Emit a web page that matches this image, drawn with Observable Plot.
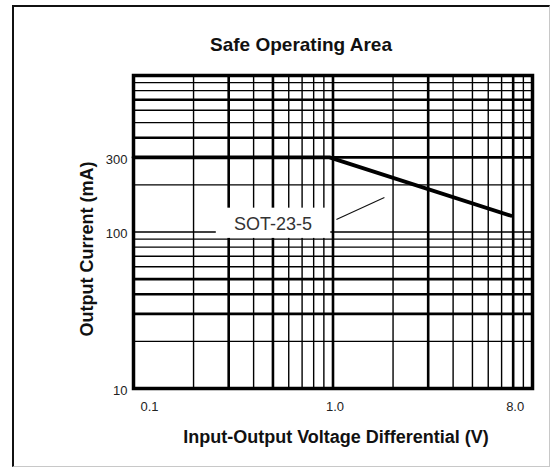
<!DOCTYPE html>
<html>
<head>
<meta charset="utf-8">
<script src="https://cdn.jsdelivr.net/npm/d3@7"></script>
<script src="https://cdn.jsdelivr.net/npm/@observablehq/plot@0.6"></script>
<style>
  html, body { margin: 0; padding: 0; background: #fff; }
  #wrap { position: relative; width: 550px; height: 467px; overflow: hidden; }
  #border { position: absolute; left: 12px; top: 5px; width: 535px; height: 459px;
            border-left: 2px solid #111; border-top: 2px solid #111;
            border-right: 1px solid #c8c8c8; border-bottom: 1px solid #c8c8c8;
            pointer-events: none; }
</style>
</head>
<body>
<div id="wrap"><div id="chart"></div><div id="border"></div></div>
<script>
// ---- data ----
const chartTitle = "Safe Operating Area";
const xTitle = "Input-Output Voltage Differential (V)";
const yTitle = "Output Current (mA)";
const xDomain = [0.1, 10];
const yDomain = [10, 1000];
const xGridValues = [0.1, 0.2, 0.3, 0.4, 0.5, 0.6, 0.7, 0.8, 0.9, 1, 2, 3, 4, 5, 6, 7, 8, 9, 10];
const yGridValues = [10, 20, 30, 40, 50, 60, 70, 80, 90, 100, 200, 300, 400, 500, 600, 700, 800, 900, 1000];
const xHeavyGrid = [0.3, 0.5, 1, 3, 8];
const yHeavyGrid = [30, 40, 50, 300, 400, 700];
const xTickLabels = [0.1, 1, 8];
const yTickLabels = [10, 100, 300];
const soaVoltage = [0.1, 0.96, 7.8];
const soaCurrent = [300, 300, 127];
const seriesLabel = "SOT-23-5";
const labelVoltage = 0.5;
const labelCurrent = 112;
const labelBoxVoltage = [0.26, 0.975];
const labelBoxCurrent = [91, 142];
const leaderVoltage = [1.04, 1.81];
const leaderCurrent = [120, 166];

// ---- tables ----
const soa = soaVoltage.map((v, i) => ({v, i: soaCurrent[i]}));
const labelBox = [{x1: labelBoxVoltage[0], x2: labelBoxVoltage[1], y1: labelBoxCurrent[0], y2: labelBoxCurrent[1]}];
const leader = [{x1: leaderVoltage[0], y1: leaderCurrent[0], x2: leaderVoltage[1], y2: leaderCurrent[1]}];
const fmt1 = d3.format(".1f");
const font = "'Liberation Sans', Arial, Helvetica, sans-serif";

const chart = Plot.plot({
  width: 550,
  height: 467,
  marginLeft: 133,
  marginRight: 18,
  marginTop: 75,
  marginBottom: 79,
  style: {fontFamily: font, background: "transparent", color: "#111"},
  x: {type: "log", domain: xDomain, axis: null},
  y: {type: "log", domain: yDomain, axis: null},
  marks: [
    Plot.ruleX(xGridValues, {x: d => d, stroke: "#000", strokeWidth: 1.4}),
    Plot.ruleX(xHeavyGrid, {x: d => d, stroke: "#000", strokeWidth: 2.6}),
    Plot.ruleY(yGridValues, {y: d => d, stroke: "#000", strokeWidth: 1.4}),
    Plot.ruleY(yHeavyGrid, {y: d => d, stroke: "#000", strokeWidth: 2.6}),
    Plot.rect(labelBox, {x1: "x1", x2: "x2", y1: "y1", y2: "y2", fill: "white"}),
    Plot.line(soa, {x: "v", y: "i", stroke: "#000", strokeWidth: 3.8, strokeLinejoin: "round"}),
    Plot.link(leader, {x1: "x1", y1: "y1", x2: "x2", y2: "y2", stroke: "#111", strokeWidth: 1.1}),
    Plot.text([seriesLabel], {x: labelVoltage, y: labelCurrent, text: d => d, fontSize: 18, fill: "#333"}),
    Plot.frame({stroke: "#000", strokeWidth: 3.5}),
    // tick labels
    Plot.text(xTickLabels.slice(0, 1), {x: d => d, text: d => fmt1(d), frameAnchor: "bottom", lineAnchor: "middle", dy: 18, dx: 7, textAnchor: "start", fontSize: 13, fill: "#222"}),
    Plot.text(xTickLabels.slice(1), {x: d => d, text: d => fmt1(d), frameAnchor: "bottom", lineAnchor: "middle", textAnchor: "middle", dy: 18, dx: 2, fontSize: 13, fill: "#222"}),
    Plot.text(yTickLabels, {y: d => d, text: d => String(d), frameAnchor: "left", textAnchor: "end", lineAnchor: "middle", dx: -6, dy: 2, fontSize: 13, fill: "#222"}),
    // titles
    Plot.text([chartTitle], {text: d => d, frameAnchor: "top", lineAnchor: "middle", textAnchor: "middle", dx: -32, dy: -31, fontSize: 19, fontWeight: "bold", fill: "#111"}),
    Plot.text([xTitle], {text: d => d, frameAnchor: "bottom", lineAnchor: "middle", textAnchor: "middle", dx: 3, dy: 49, fontSize: 18, fontWeight: "bold", fill: "#111"}),
    Plot.text([yTitle], {text: d => d, frameAnchor: "left", lineAnchor: "middle", textAnchor: "middle", rotate: -90, dx: -46, dy: 17, fontSize: 18, fontWeight: "bold", fill: "#111"})
  ]
});
document.getElementById("chart").appendChild(chart);
</script>
</body>
</html>
